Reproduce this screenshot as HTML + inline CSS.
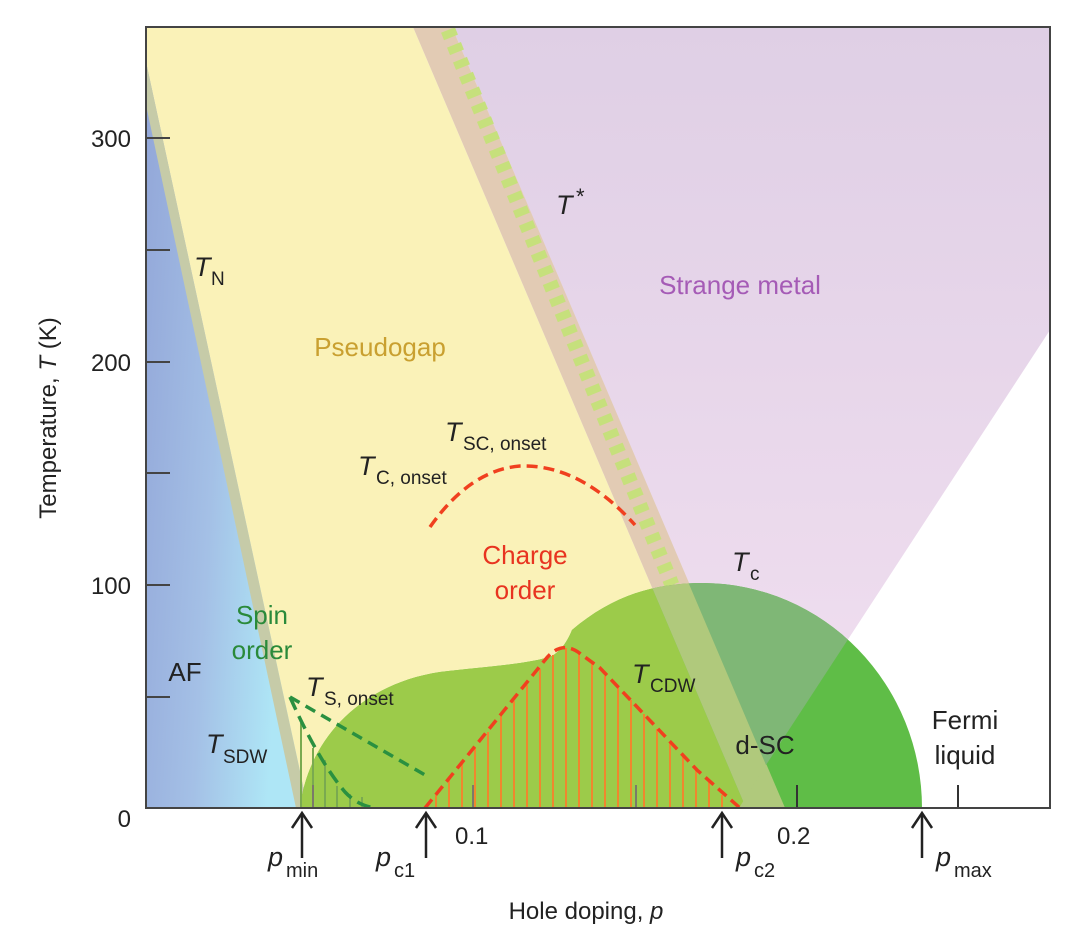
<!DOCTYPE html>
<html><head><meta charset="utf-8"><style>
html,body{margin:0;padding:0;background:#fff}
svg{display:block}
text{font-family:"Liberation Sans",Arial,sans-serif;fill:#222}
.it{font-style:italic}
</style></head><body>
<svg width="1080" height="947" viewBox="0 0 1080 947" xmlns="http://www.w3.org/2000/svg">
<defs>
<linearGradient id="blue" x1="0" y1="0" x2="1" y2="0.3">
<stop offset="0" stop-color="#92a6d8"/><stop offset="0.55" stop-color="#a4c0e6"/><stop offset="1" stop-color="#aee6f6"/>
</linearGradient>
<linearGradient id="purp" x1="0" y1="0" x2="0" y2="1">
<stop offset="0" stop-color="#dfcfe5"/><stop offset="1" stop-color="#f1dff0"/>
</linearGradient>
<clipPath id="dome"><path d="M300,808 C308,740 360,684 440,672 C490,666 530,664 552,656 C562,650 568,640 572,630 C610,598 650,583 703,583 A220 225 0 0 1 922,808 Z"/></clipPath>
</defs>
<polygon points="146,27 300,27 300,808 146,808" fill="url(#blue)"/>
<polygon points="146,27 413,27 746,808 308,808 146,62" fill="#faf2b8"/>
<polygon points="146,62 308,808 296,808 146,105" fill="#c6cba8"/>
<polygon points="452,27 1050,27 1050,330 766,765" fill="url(#purp)"/>
<polygon points="413,27 452,27 785,808 746,808" fill="#e2cbb4"/>
<line x1="448" y1="30" x2="672" y2="585" stroke="#c6e07c" stroke-width="15" stroke-dasharray="8 8"/>
<g clip-path="url(#dome)">
<rect x="140" y="500" width="900" height="320" fill="#5fbd47"/>
<polygon points="146,27 413,27 746,808 146,808" fill="#9ccb4a"/>
<polygon points="413,27 452,27 785,808 746,808" fill="#b0c97c"/>
<polygon points="452,27 1050,27 1050,330 766,765" fill="#7fb776"/>
<polygon points="766,765 785,808 739,808" fill="#b0c97c"/>
</g>
<g stroke="#7aaa50" stroke-width="2">
<line x1="301" y1="808" x2="301" y2="723"/><line x1="313" y1="808" x2="313" y2="748"/>
<line x1="325" y1="808" x2="325" y2="760"/><line x1="337" y1="808" x2="337" y2="786"/>
<line x1="350" y1="808" x2="350" y2="794"/><line x1="362" y1="808" x2="362" y2="797"/>
</g>
<g stroke="#f0872e" stroke-width="2">
<line x1="436" y1="808" x2="436" y2="795"/><line x1="449" y1="808" x2="449" y2="779"/>
<line x1="462" y1="808" x2="462" y2="763"/><line x1="475" y1="808" x2="475" y2="748"/>
<line x1="488" y1="808" x2="488" y2="732"/><line x1="501" y1="808" x2="501" y2="716"/>
<line x1="514" y1="808" x2="514" y2="701"/><line x1="527" y1="808" x2="527" y2="685"/>
<line x1="540" y1="808" x2="540" y2="669"/><line x1="553" y1="808" x2="553" y2="655"/>
<line x1="566" y1="808" x2="566" y2="648"/><line x1="579" y1="808" x2="579" y2="652"/>
<line x1="592" y1="808" x2="592" y2="663"/><line x1="605" y1="808" x2="605" y2="676"/>
<line x1="618" y1="808" x2="618" y2="687"/><line x1="631" y1="808" x2="631" y2="700"/>
<line x1="644" y1="808" x2="644" y2="714"/><line x1="657" y1="808" x2="657" y2="729"/>
<line x1="670" y1="808" x2="670" y2="743"/><line x1="683" y1="808" x2="683" y2="757"/>
<line x1="696" y1="808" x2="696" y2="769"/><line x1="709" y1="808" x2="709" y2="782"/>
<line x1="722" y1="808" x2="722" y2="795"/>
</g>
<g stroke="#7a7a6a" stroke-width="2">
<line x1="313" y1="808" x2="313" y2="785"/><line x1="473" y1="808" x2="473" y2="785"/><line x1="636" y1="808" x2="636" y2="785"/>
</g>
<g stroke="#333" stroke-width="2">
<line x1="797" y1="808" x2="797" y2="785"/><line x1="958" y1="808" x2="958" y2="785"/>
</g>
<path d="M425,808 L545,660 Q562,638 582,655 L600,668 L640,710 L697,770 L740,808" fill="none" stroke="#f0401f" stroke-width="3.5" stroke-dasharray="11 6"/>
<path d="M430,527 Q470,470 520,466 Q580,464 635,525" fill="none" stroke="#f0401f" stroke-width="3.5" stroke-dasharray="11 6"/>
<path d="M290,697 L425,775" fill="none" stroke="#2a9040" stroke-width="3.5" stroke-dasharray="11 7"/>
<path d="M290,697 Q318,760 345,792 Q358,806 376,808" fill="none" stroke="#2a9040" stroke-width="3.5" stroke-dasharray="14 7"/>
<rect x="146" y="27" width="904" height="781" fill="none" stroke="#444" stroke-width="2"/>
<g stroke="#444" stroke-width="2">
<line x1="146" y1="138" x2="170" y2="138"/><line x1="146" y1="250" x2="170" y2="250"/>
<line x1="146" y1="362" x2="170" y2="362"/><line x1="146" y1="473" x2="170" y2="473"/>
<line x1="146" y1="585" x2="170" y2="585"/><line x1="146" y1="697" x2="170" y2="697"/>
</g>
<g font-size="24" text-anchor="end">
<text x="131" y="147">300</text><text x="131" y="371">200</text><text x="131" y="594">100</text><text x="131" y="827">0</text>
</g>
<text transform="translate(56,418) rotate(-90)" font-size="24" text-anchor="middle">Temperature, <tspan class="it">T</tspan> (K)</text>
<g stroke="#222" stroke-width="2.5" fill="none">
<line x1="302" y1="813" x2="302" y2="858"/><polyline points="292,828 302,813 312,828"/>
<line x1="426" y1="813" x2="426" y2="858"/><polyline points="416,828 426,813 436,828"/>
<line x1="722" y1="813" x2="722" y2="858"/><polyline points="712,828 722,813 732,828"/>
<line x1="922" y1="813" x2="922" y2="858"/><polyline points="912,828 922,813 932,828"/>
</g>
<g font-size="24">
<text x="455" y="844">0.1</text><text x="777" y="844">0.2</text>
<text x="268" y="866" class="it" font-size="27">p</text><text x="286" y="877" font-size="20">min</text>
<text x="376" y="866" class="it" font-size="27">p</text><text x="394" y="877" font-size="20">c1</text>
<text x="736" y="866" class="it" font-size="27">p</text><text x="754" y="877" font-size="20">c2</text>
<text x="936" y="866" class="it" font-size="27">p</text><text x="954" y="877" font-size="20">max</text>
<text x="586" y="919" text-anchor="middle">Hole doping, <tspan class="it">p</tspan></text>
</g>
<g font-size="26" text-anchor="middle">
<text x="740" y="294" style="fill:#a55bb6">Strange metal</text>
<text x="380" y="356" style="fill:#c9a030">Pseudogap</text>
<text x="525" y="564" style="fill:#e83420">Charge</text>
<text x="525" y="599" style="fill:#e83420">order</text>
<text x="262" y="624" style="fill:#2a8a3a">Spin</text>
<text x="262" y="659" style="fill:#2a8a3a">order</text>
<text x="185" y="681">AF</text>
<text x="965" y="729">Fermi</text>
<text x="965" y="764">liquid</text>
<text x="765" y="754">d-SC</text>
</g>
<g font-size="27">
<text x="194" y="276" class="it">T</text><text x="211" y="285" font-size="19">N</text>
<text x="556" y="214" class="it">T</text><text x="576" y="204" font-size="22">*</text>
<text x="445" y="441" class="it">T</text><text x="463" y="450" font-size="19">SC, onset</text>
<text x="358" y="475" class="it">T</text><text x="376" y="484" font-size="19">C, onset</text>
<text x="732" y="571" class="it">T</text><text x="750" y="580" font-size="19">c</text>
<text x="632" y="683" class="it">T</text><text x="650" y="692" font-size="19">CDW</text>
<text x="306" y="696" class="it">T</text><text x="324" y="705" font-size="19">S, onset</text>
<text x="206" y="753" class="it">T</text><text x="223" y="763" font-size="19">SDW</text>
</g>
</svg>
</body></html>
